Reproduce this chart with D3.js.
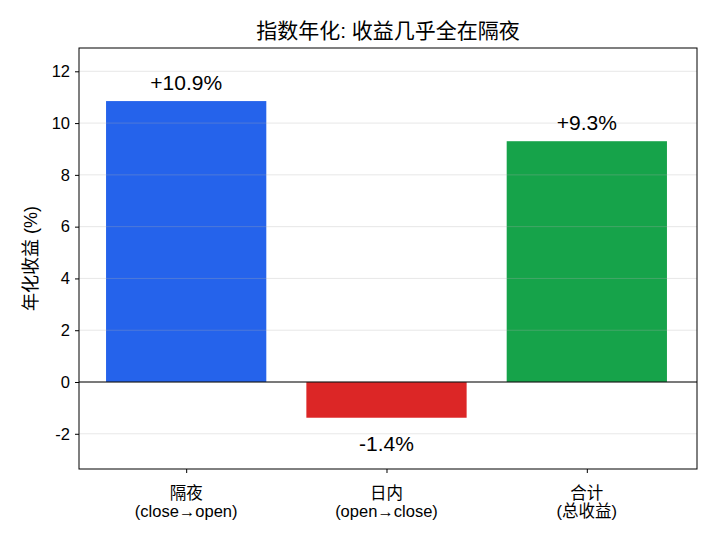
<!DOCTYPE html>
<html>
<head>
<meta charset="utf-8">
<script src="https://cdn.jsdelivr.net/npm/d3@7"></script>
<style>
  body { margin: 0; background: #fff; }
  svg { font-family: "Liberation Sans", Arial, "Noto Sans CJK SC", sans-serif; }
</style>
</head>
<body>
<svg id="chart" width="715" height="546"></svg>
<script>
// 資料
const categories = ["隔夜", "日内", "合计"];
const subLabels = ["(close→open)", "(open→close)", "(总收益)"];
const values = [10.85, -1.38, 9.3];
const valueLabels = ["+10.9%", "-1.4%", "+9.3%"];
const barColors = ["#2563eb", "#dc2626", "#16a34a"];
const yTicks = [-2, 0, 2, 4, 6, 8, 10, 12];

const width = 715;
const height = 546;
const margin = { top: 48, right: 18, bottom: 77, left: 79 };
const innerW = width - margin.left - margin.right;
const innerH = height - margin.top - margin.bottom;

const svg = d3.select("#chart");
const g = svg.append("g").attr("transform", `translate(${margin.left},${margin.top})`);

// x 用連續軸，模仿 matplotlib 的 xlim
const x = d3.scaleLinear().domain([-0.535, 2.55]).range([0, innerW]);
const barW = x(0.8) - x(0);
const y = d3.scaleLinear().domain([-3.36, 12.9]).range([innerH, 0]);

// 長條
g.selectAll("rect.bar")
  .data(values)
  .join("rect")
  .attr("class", "bar")
  .attr("x", (d, i) => x(i) - barW / 2)
  .attr("width", barW)
  .attr("y", d => y(Math.max(0, d)))
  .attr("height", d => Math.abs(y(d) - y(0)))
  .attr("fill", (d, i) => barColors[i]);

// 格線 (在長條上方, 淡色)
g.selectAll("line.grid")
  .data(yTicks)
  .join("line")
  .attr("class", "grid")
  .attr("x1", 0).attr("x2", innerW)
  .attr("y1", d => y(d)).attr("y2", d => y(d))
  .attr("stroke", "#b0b0b0")
  .attr("stroke-opacity", 0.3)
  .attr("stroke-width", 1);

// 零線
g.append("line")
  .attr("x1", 0).attr("x2", innerW)
  .attr("y1", y(0)).attr("y2", y(0))
  .attr("stroke", "#000").attr("stroke-width", 1);

// 數值標籤
g.selectAll("text.val")
  .data(values)
  .join("text")
  .attr("class", "val")
  .attr("x", (d, i) => x(i))
  .attr("y", d => d >= 0 ? y(d) - 11 : y(d) + 33)
  .attr("text-anchor", "middle")
  .attr("font-size", 21)
  .attr("fill", "#000")
  .text((d, i) => valueLabels[i]);

// y 軸
const yAxis = g.append("g")
  .call(d3.axisLeft(y).tickValues(yTicks).tickSize(4).tickPadding(5).tickFormat(d => String(d)));
yAxis.select(".domain").remove();
yAxis.selectAll("text").attr("font-size", 16.5).attr("fill", "#000")
  .attr("font-family", "Liberation Sans, Arial, sans-serif");
yAxis.selectAll("line").attr("stroke", "#000");

// x 軸刻度
const xAxis = g.append("g")
  .attr("transform", `translate(0,${innerH})`)
  .call(d3.axisBottom(x).tickValues([0, 1, 2]).tickSize(4).tickFormat(""));
xAxis.select(".domain").remove();
xAxis.selectAll("line").attr("stroke", "#000");

const xl = g.selectAll("text.cat")
  .data(categories)
  .join("text")
  .attr("class", "cat")
  .attr("text-anchor", "middle")
  .attr("font-size", 16.5)
  .attr("fill", "#000");
xl.append("tspan")
  .attr("x", (d, i) => x(i))
  .attr("y", innerH + 30)
  .text(d => d);
xl.append("tspan")
  .attr("x", (d, i) => x(i))
  .attr("y", innerH + 48)
  .text((d, i) => subLabels[i]);

// 外框
g.append("rect")
  .attr("width", innerW).attr("height", innerH)
  .attr("fill", "none").attr("stroke", "#000").attr("stroke-width", 1);

// 標題
svg.append("text")
  .attr("x", margin.left + innerW / 2)
  .attr("y", 38)
  .attr("text-anchor", "middle")
  .attr("font-size", 21)
  .attr("fill", "#000")
  .text("指数年化: 收益几乎全在隔夜");

// y 軸標題
svg.append("text")
  .attr("transform", `translate(37,${margin.top + innerH / 2}) rotate(-90)`)
  .attr("text-anchor", "middle")
  .attr("font-size", 18)
  .attr("fill", "#000")
  .text("年化收益 (%)");
</script>
</body>
</html>
